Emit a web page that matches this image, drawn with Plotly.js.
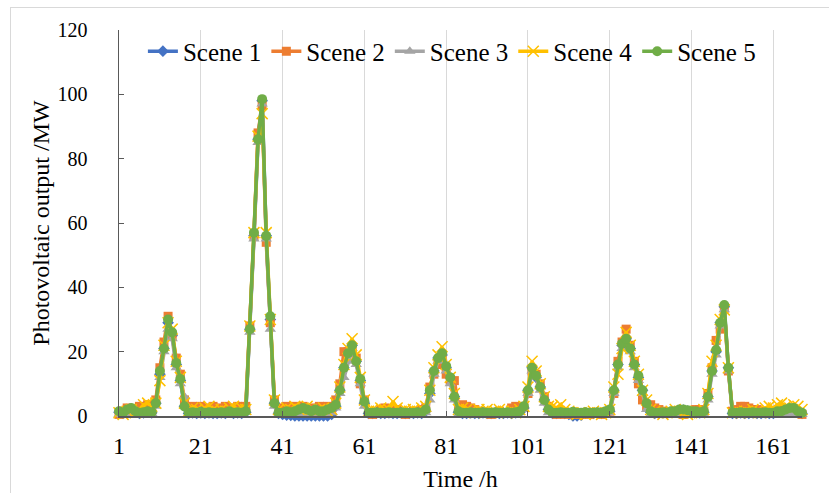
<!DOCTYPE html>
<html>
<head>
<meta charset="utf-8">
<script src="https://cdn.plot.ly/plotly-3.0.1.min.js"></script>
<style>
  html, body { margin: 0; padding: 0; background: #fff; }
  #wrap { position: relative; width: 829px; height: 493px; overflow: hidden; }
  #chart { position: absolute; left: 0; top: 0; width: 829px; height: 493px; }
  #frame { position: absolute; left: 10px; top: 7px; width: 900px; height: 600px; border: 1px solid #d9d9d9; pointer-events: none; }
</style>
</head>
<body>
<div id="wrap"><div id="chart"></div><div id="frame"></div></div>
<script>
// Hours 1..168 (category index)
const hours = Array.from({length: 168}, (_, i) => i + 1);
const xTickVals = [1, 21, 41, 61, 81, 101, 121, 141, 161];
const yTickVals = [0, 20, 40, 60, 80, 100, 120];
const seriesNames = ["Scene 1", "Scene 2", "Scene 3", "Scene 4", "Scene 5"];

const scene1 = [
  1.2,0.8,1.5,2.0,1.2,0.8,1.0,1.2,1.0,4,13,21,29,25,16,11,3,0.8,1.0,0.8,1.0,0.8,1.0,0.8,
  0.8,1.0,0.8,1.2,0.8,1.0,0.8,1.2,27,56,86,98,56,30,4,0.8,0.5,0.3,0.2,0,0,0,0,0,
  0,0,0,0,0.5,3,8,15,19,22,17,11,4,0.8,0.8,1.0,0.8,0.8,1.0,0.8,0.8,1.0,0.8,0.8,
  0.8,1.0,0.8,1.5,7,14,18,19,15,12,6,1.2,0.8,0.8,1.0,0.8,0.8,1.0,0.8,0.8,1.0,0.8,0.8,1.0,
  0.8,1.0,1.2,2.5,8,15,12,9,5,2,0.8,0.8,1.0,0.8,0.5,0,0,0.3,1.0,0.8,0.8,1.0,0.8,1.2,
  1.5,8,16,22,24,21,16,12,8,4,1.2,0.8,0.8,1.0,0.8,1.2,1.2,1.8,1.8,1.5,1.2,1.2,1.0,1.2,
  6,14,20,29,34,15,0.8,0.8,1.0,0.8,0.8,1.0,0.8,0.8,1.0,0.8,0.8,1.2,1.2,1.8,2.2,2.2,1.2,0.8
];
const scene2 = [
  0.5,1.5,2.5,1.0,2.0,3.0,2.5,3.5,2.0,5,15,23,31,25,18,13,5,2.5,3.0,2.0,3.0,2.5,2.0,3.0,
  2.5,2.0,3.0,2.5,2.0,3.0,2.5,3.0,28,56,88,96.5,54,29,5,2.0,2.5,3.0,2.0,3.0,2.5,3.0,2.0,2.5,
  2.0,3.0,2.5,3.0,2.0,5,10,20,20,21,18,10,5,1.0,0.5,1.0,2.0,2.5,1.5,1.0,2.0,1.0,0.5,1.0,
  1.5,1.0,2.0,2.5,9,13,16,18,13,11,11,3.0,3.5,3.0,2.5,2.0,1.5,1.0,1.0,0.5,1.0,1.5,1.0,1.0,
  2.5,3.0,2.5,3.0,7,14,13,10,6,3,1.0,0.5,1.0,0.5,1.0,0.5,1.0,0.5,1.0,0.5,1.0,1.0,0.5,1.0,
  1.5,7,17,23,27,22,17,10,5,3,3.5,2.5,2.0,1.5,1.0,1.0,1.5,1.0,0.5,1.0,1.5,2.0,2.0,1.5,
  7,15,23.5,27,33.5,14,1.5,2.0,3.0,3.0,2.5,2.0,2.0,1.5,1.0,1.0,1.0,1.5,2.0,1.5,1.0,1.5,1.0,0.5
];
const scene3 = [
  0.5,0.2,0.5,1.0,0.5,0.3,0.5,1.0,0.8,3,12,20,27,24,15,10,6,0.5,0.5,0.3,0.5,0.8,1.2,0.5,
  0.5,1.0,0.5,0.8,1.5,0.5,1.0,1.2,26,55,85,97,55,27,3,0.5,0.3,0.5,0.8,1.0,0.5,0.5,1.0,0.5,
  0.2,0.3,0.5,0.8,1.0,2.5,7,12,17,21,16,10,3,0.3,0.2,0.3,0.5,0.3,0.2,0.5,0.3,0.2,0.3,0.5,
  0.3,0.5,0.5,1.0,5,13,17,18,14,10,5,0.5,0.3,0.2,0.3,0.5,0.3,0.2,0.3,0.2,0.5,0.3,0.2,0.3,
  0.5,0.3,1.0,2,7,14,12,8,4,1,0.3,0.2,0.3,0.5,1.0,0.5,0.3,0.2,0.5,0.3,0.2,0.3,0.5,0.3,
  1.0,7,15,21,25,20,15,11,7,2,0.5,0.3,0.2,0.3,0.5,1.0,0.5,0.3,0.2,0.3,0.5,0.2,0.3,0.5,
  5,13,19,28,33,14,0.5,0.3,0.2,0.3,0.2,0.5,0.3,0.2,0.3,0.5,0.3,0.5,0.8,1.0,0.5,0.8,0.3,0.5
];
const scene4 = [
  1.0,0.5,1.5,2.0,1.0,2.0,3.5,4.0,3.0,4,11,22,29,27,17,12,4,1.5,2.5,2.0,1.5,2.5,3.0,2.0,
  1.5,2.0,1.5,2.5,3.0,2.0,2.5,2.0,28,57,87,94,57,30,5,2.0,1.5,2.5,2.0,3.0,2.0,2.5,3.0,2.0,
  1.5,2.0,2.5,1.5,2.0,4,9,16,21,24,19,12,5,1.5,2.0,1.5,2.5,2.0,2.0,4.5,2.5,1.5,2.0,1.5,
  2.0,1.5,2.5,3.0,8,15,19,21.5,16,12,7,2.0,2.5,2.0,1.5,1.0,2.0,1.5,2.0,1.0,1.5,2.0,1.5,1.0,
  1.5,1.0,2.0,3,9,17,14,10,6,3,3.0,2.5,3.5,2.0,1.5,1.0,0.5,1.0,0.5,1.0,1.5,1.0,0.5,1.0,
  2.0,9,13,21,26,22,17,13,8,5,2.0,1.5,1.0,0.5,1.0,1.5,2.0,1.5,1.0,0.5,1.0,1.5,1.0,2.0,
  7,17,22,30,33,15,1.0,1.5,1.0,1.5,1.0,2.0,1.5,1.0,2.5,3.0,2.5,3.5,4.0,3.0,2.5,3.5,3.0,2.0
];
const scene5 = [
  1.5,1.0,2.0,2.5,1.5,1.0,1.2,1.5,1.2,4.0,14,21,30,26,16.5,11.5,3.0,1.0,1.2,1.0,1.3,1.0,1.2,1.0,
  1.0,1.2,1.0,1.5,1.0,1.2,1.0,1.5,27,57,86,98.5,56,31,4.0,1.0,1.0,1.5,1.2,1.5,2.0,2.5,2.0,1.5,
  2.0,1.5,1.5,2.0,2.5,3.5,8,15,19.5,22,17,11.5,4.5,1.0,1.0,1.2,1.0,1.0,1.2,1.0,1.0,1.2,1.0,1.0,
  1.0,1.2,1.0,2.0,8,14,18,19.5,15.5,12,6,1.5,1.0,1.0,1.2,1.0,1.0,1.2,1.0,1.0,1.2,1.0,1.0,1.2,
  1.0,1.2,1.5,3,8,15,12.5,9,5,2,1.0,1.0,1.2,1.0,1.0,1.3,1.0,1.0,1.2,1.0,1.0,1.2,1.0,1.5,
  2.0,8,16,22.5,24,21,16,12.5,8,4,1.5,1.0,1.0,1.2,1.0,1.5,1.5,2.0,2.0,1.8,1.5,1.5,1.2,1.5,
  6,14,20.5,29,34.5,15,1.0,1.0,1.2,1.0,1.0,1.2,1.0,1.0,1.2,1.0,1.0,1.5,1.5,2.0,2.5,2.5,1.5,1.0
];

const seriesData = [scene1, scene2, scene3, scene4, scene5];
const colors = ["#4472C4", "#ED7D31", "#A5A5A5", "#FFC000", "#70AD47"];
const symbols = ["diamond", "square", "triangle-up", "x-thin-open", "circle"];
const sizes = [9, 9, 10, 11, 10];

const FONT = "'Liberation Serif', 'Times New Roman', serif";

const traces = seriesData.map((ys, i) => ({
  type: "scatter",
  mode: "lines+markers",
  name: seriesNames[i],
  x: hours,
  y: ys,
  cliponaxis: false,
  line: { color: colors[i], width: 3.5 },
  marker: {
    symbol: symbols[i],
    size: sizes[i],
    color: colors[i],
    line: { color: colors[i], width: symbols[i] === "x-thin-open" ? 1.5 : 0 }
  }
}));

const layout = {
  width: 829,
  height: 493,
  margin: { l: 119, r: 27, t: 30, b: 77 },
  paper_bgcolor: "#ffffff",
  plot_bgcolor: "#ffffff",
  font: { family: FONT, color: "#000000", size: 22 },
  showlegend: true,
  legend: {
    orientation: "h",
    x: 0.035, xanchor: "left",
    y: 1.004, yanchor: "top",
    bgcolor: "rgba(0,0,0,0)",
    font: { family: FONT, size: 25, color: "#000000" },
    itemsizing: "trace",
    tracegroupgap: 0
  },
  xaxis: {
    range: [1, 168],
    tickmode: "array",
    tickvals: xTickVals,
    ticktext: xTickVals.map(String),
    showgrid: true,
    gridcolor: "#d9d9d9",
    gridwidth: 1,
    zeroline: false,
    showline: true,
    linecolor: "#595959",
    linewidth: 1.5,
    ticks: "inside",
    ticklen: 5,
    tickcolor: "#595959",
    tickfont: { family: FONT, size: 24, color: "#000000" },
    ticklabelstandoff: 8,
    title: { text: "Time /h", font: { family: FONT, size: 24, color: "#000000" }, standoff: 12 }
  },
  yaxis: {
    range: [0, 120],
    tickmode: "array",
    tickvals: yTickVals,
    showgrid: false,
    zeroline: false,
    showline: true,
    linecolor: "#595959",
    linewidth: 1.5,
    ticks: "inside",
    ticklen: 5,
    tickcolor: "#595959",
    tickfont: { family: FONT, size: 20, color: "#000000" },
    ticklabelstandoff: 26,
    title: { text: "Photovoltaic output /MW", font: { family: FONT, size: 24, color: "#000000" }, standoff: 1 }
  }
};

Plotly.newPlot("chart", traces, layout, { displayModeBar: false, staticPlot: true });
</script>
</body>
</html>
